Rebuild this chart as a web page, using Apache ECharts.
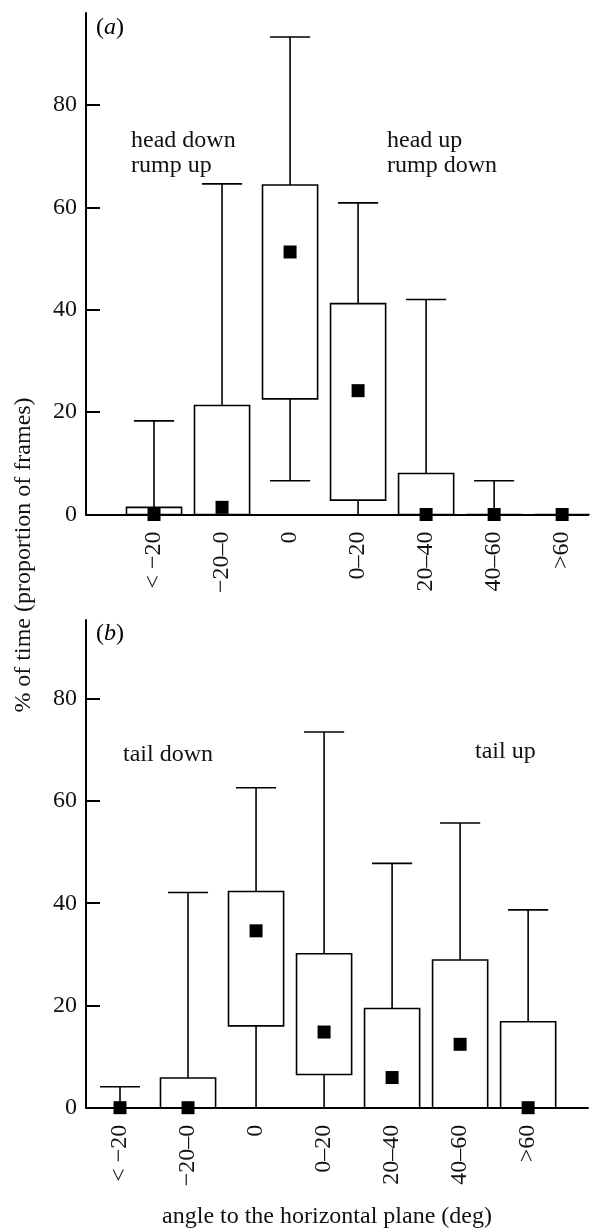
<!DOCTYPE html>
<html>
<head>
<meta charset="utf-8">
<script src="https://cdn.jsdelivr.net/npm/echarts@6/dist/echarts.min.js"></script>
<style>
  html, body { margin: 0; padding: 0; background: #fff; }
  #chart { width: 590px; height: 1230px; }
</style>
</head>
<body>
<div id="chart"></div>
<script>
// categories (angle bins)
const categories = ["< \u221220", "\u221220\u20130", "0", "0\u201320", "20\u201340", "40\u201360", ">60"]
const catIndex = [0, 1, 2, 3, 4, 5, 6]
const yTicks = [0, 20, 40, 60, 80]

// (a) head / rump
const aLow = [0, 0, 6.6, 0, 0, 0, 0]
const aQ1 = [0, 0, 22.6, 2.8, 0, 0, 0]
const aMedian = [0, 1.4, 51.3, 24.2, 0, 0, 0]
const aQ3 = [1.4, 21.3, 64.4, 41.2, 8.0, 0, 0]
const aHigh = [18.3, 64.6, 93.3, 60.9, 42.0, 6.6, 0]

// (b) tail
const bLow = [0, 0, 0, 0, 0, 0, 0]
const bQ1 = [0, 0, 16.0, 6.5, 0, 0, 0]
const bMedian = [0, 0, 34.6, 14.8, 5.9, 12.4, 0]
const bQ3 = [0, 5.8, 42.3, 30.1, 19.4, 28.9, 16.8]
const bHigh = [4.1, 42.1, 62.6, 73.5, 47.8, 55.7, 38.7]

const FONT = '"Liberation Serif", "DejaVu Serif", serif'
const INK = "#111"

const boxData = (lo, q1, q3, hi) => catIndex.map((i) => [i, lo[i], q1[i], q3[i], hi[i]])
const medData = (med) => catIndex.map((i) => [i, med[i]])

// draws box + whiskers + caps for one category
function renderBox(params, api) {
  const x = api.value(0)
  const lo = api.value(1)
  const q1 = api.value(2)
  const q3 = api.value(3)
  const hi = api.value(4)
  const bw = api.size([0.81, 0])[0]
  const cw = api.size([0.59, 0])[0]
  const pLo = api.coord([x, lo])
  const pQ1 = api.coord([x, q1])
  const pQ3 = api.coord([x, q3])
  const pHi = api.coord([x, hi])
  const cx = pQ1[0]
  const line = { stroke: "#000", lineWidth: 1.6 }
  const children = []
  if (hi > q3) {
    children.push({ type: "line", shape: { x1: cx, y1: pQ3[1], x2: cx, y2: pHi[1] }, style: line })
    children.push({ type: "line", shape: { x1: cx - cw / 2, y1: pHi[1], x2: cx + cw / 2, y2: pHi[1] }, style: line })
  }
  if (lo < q1) {
    children.push({ type: "line", shape: { x1: cx, y1: pQ1[1], x2: cx, y2: pLo[1] }, style: line })
    if (lo > 0) {
      children.push({ type: "line", shape: { x1: cx - cw / 2, y1: pLo[1], x2: cx + cw / 2, y2: pLo[1] }, style: line })
    }
  }
  children.push({
    type: "rect",
    shape: { x: cx - bw / 2, y: pQ3[1], width: bw, height: pQ1[1] - pQ3[1] },
    style: { fill: "#fff", stroke: "#000", lineWidth: 1.6 }
  })
  return { type: "group", children: children }
}

const xAxisFor = (gridIndex, min, max) => ({
  type: "value",
  gridIndex: gridIndex,
  min: min,
  max: max,
  splitLine: { show: false },
  axisLine: { onZero: false, lineStyle: { color: "#000", width: 2 } },
  axisTick: { show: false },
  axisLabel: {
    customValues: catIndex,
    rotate: 90,
    margin: 17,
    fontFamily: FONT,
    fontSize: 24,
    color: INK,
    formatter: (v) => categories[Math.round(v)] || ""
  }
})

const yAxisFor = (gridIndex, max) => ({
  type: "value",
  gridIndex: gridIndex,
  position: "left",
  min: 0,
  max: max,
  splitLine: { show: false },
  axisLine: { onZero: false, lineStyle: { color: "#000", width: 2 } },
  axisTick: { inside: true, length: 14, customValues: yTicks, lineStyle: { color: "#000", width: 2 } },
  axisLabel: { customValues: yTicks, margin: 9, fontFamily: FONT, fontSize: 24, color: INK }
})

const txt = (left, top, text, extra) => ({
  type: "text",
  left: left,
  top: top,
  style: Object.assign({ text: text, font: "24px " + FONT, fill: INK }, extra || {})
})

const panelTag = (top, letter) => ({
  type: "text",
  left: 96,
  top: top,
  style: {
    text: "{n|(}{i|" + letter + "}{n|)}",
    rich: {
      n: { fontFamily: FONT, fontSize: 24, color: INK },
      i: { fontFamily: FONT, fontSize: 24, fontStyle: "italic", color: INK }
    }
  }
})

const option = {
  animation: false,
  backgroundColor: "#fff",
  grid: [
    { left: 86, right: 2, top: 13, height: 501.5 },
    { left: 86, right: 2, top: 620, height: 487.7 }
  ],
  xAxis: [xAxisFor(0, -1, 6.38), xAxisFor(1, -0.5, 6.88)],
  yAxis: [yAxisFor(0, 98), yAxisFor(1, 95.4)],
  series: [
    { type: "custom", xAxisIndex: 0, yAxisIndex: 0, renderItem: renderBox, data: boxData(aLow, aQ1, aQ3, aHigh), z: 3 },
    { type: "scatter", xAxisIndex: 0, yAxisIndex: 0, symbol: "rect", symbolSize: 13, itemStyle: { color: "#000", opacity: 1 }, data: medData(aMedian), z: 5 },
    { type: "custom", xAxisIndex: 1, yAxisIndex: 1, renderItem: renderBox, data: boxData(bLow, bQ1, bQ3, bHigh), z: 3 },
    { type: "scatter", xAxisIndex: 1, yAxisIndex: 1, symbol: "rect", symbolSize: 13, itemStyle: { color: "#000", opacity: 1 }, data: medData(bMedian), z: 5 }
  ],
  graphic: [
    panelTag(16, "a"),
    panelTag(622, "b"),
    txt(131, 128, "head down\nrump up", { lineHeight: 25 }),
    txt(387, 128, "head up\nrump down", { lineHeight: 25 }),
    txt(123, 743, "tail down"),
    txt(475, 740, "tail up"),
    {
      type: "text",
      x: 24,
      y: 555,
      rotation: Math.PI / 2,
      style: {
        text: "% of time (proportion of frames)",
        font: "24px " + FONT,
        fill: INK,
        align: "center",
        verticalAlign: "middle"
      }
    },
    {
      type: "text",
      x: 327,
      y: 1217,
      style: {
        text: "angle to the horizontal plane (deg)",
        font: "24px " + FONT,
        fill: INK,
        align: "center",
        verticalAlign: "middle"
      }
    }
  ]
}

const chart = echarts.init(document.getElementById("chart"))
chart.setOption(option)
</script>
</body>
</html>
